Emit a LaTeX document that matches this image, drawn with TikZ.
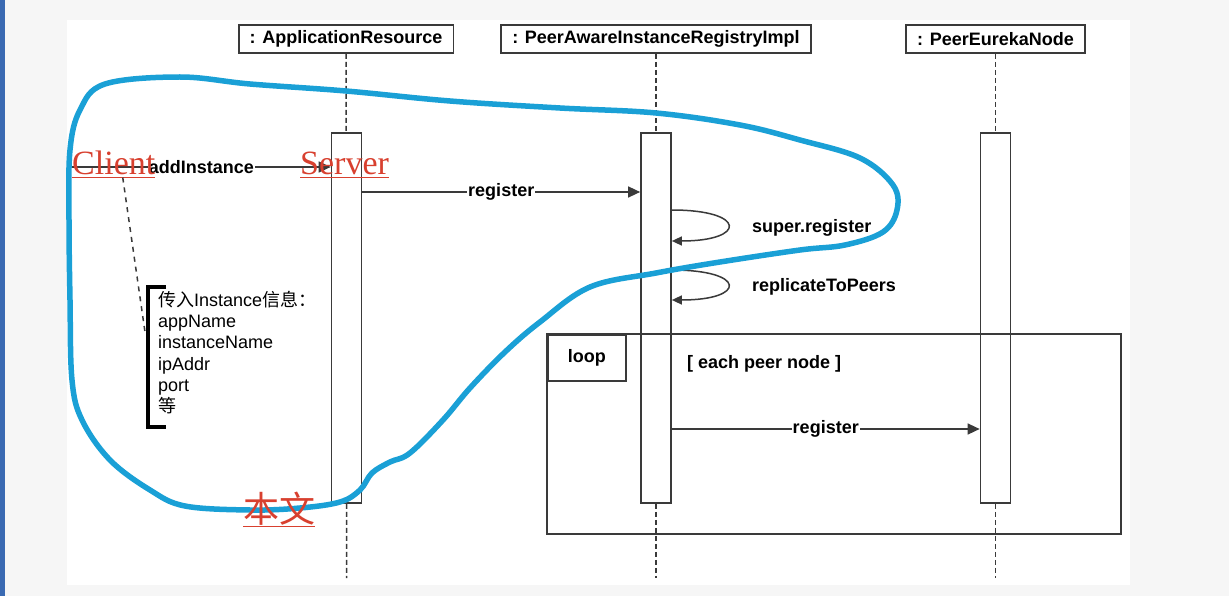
\documentclass[tikz,border=0pt]{standalone}
\usepackage{fontspec}
\setmainfont{Liberation Sans}
\newfontfamily\cjk{Noto Sans CJK SC}
\newfontfamily\serifhand{Liberation Serif}
\usetikzlibrary{arrows.meta}
\definecolor{pagegray}{HTML}{F6F6F6}
\definecolor{edgeblue}{HTML}{3A6AB2}
\definecolor{penblue}{HTML}{1AA0D6}
\definecolor{penred}{HTML}{D8402F}
\definecolor{umlline}{HTML}{3A3A3A}
\tikzset{
  head/.style={draw=umlline, line width=1.7pt, minimum height=28pt, inner xsep=11pt,
    font=\fontsize{18}{20}\selectfont\bfseries},
  activation/.style={draw=umlline, fill=white, line width=1.7pt, minimum width=30pt,
    minimum height=370pt, inner sep=0pt},
  lifeline/.style={draw=umlline, line width=1.5pt, dash pattern=on 5pt off 3pt},
  msg/.style={draw=umlline, line width=1.5pt, -{Triangle[length=12pt,width=11pt]}},
  selfmsg/.style={draw=umlline, line width=1.5pt, -{Triangle[length=10pt,width=9pt]}},
  msglabel/.style={fill=white, inner sep=1pt, font=\fontsize{18}{20}\selectfont\bfseries},
  marker/.style={text=penred, inner sep=0pt, font=\fontsize{34}{36}\serifhand},
  pen/.style={draw=penblue, line width=5.5pt, line cap=round, line join=round}
}
\begin{document}
\begin{tikzpicture}[x=1pt,y=-1pt]
\useasboundingbox (0,0) rectangle (1229,596);
\fill[pagegray] (0,0) rectangle (1229,596);
\fill[edgeblue] (0,0) rectangle (5,596);
\fill[white] (67,20) rectangle (1130,585);

\node[head] (resH) at (346,39) {: ApplicationResource};
\node[head] (regH) at (656,39) {: PeerAwareInstanceRegistryImpl};
\node[head] (peerH) at (995.5,39) {: PeerEurekaNode};

\node[activation] (resA) at (346.5,318) {};
\node[activation] (regA) at (656,318) {};
\node[activation] (peerA) at (995.5,318) {};

\coordinate (resE) at (346.5,578);
\coordinate (regE) at (656,578);
\coordinate (peerE) at (995.5,578);
\draw[lifeline] (resH) -- (resA) (resA) -- (resE);
\draw[lifeline] (regH) -- (regA) (regA) -- (regE);
\draw[lifeline] (peerH) -- (peerA) (peerA) -- (peerE);

\draw[umlline, line width=1.7pt] (547,334) rectangle (1121,534);
\node[draw=umlline, line width=1.7pt, anchor=north west, minimum width=78pt, minimum height=46pt,
  font=\fontsize{18}{20}\selectfont\bfseries] (loopTag) at (547,334) {loop};
\node[anchor=west, inner sep=0pt, font=\fontsize{18}{20}\selectfont\bfseries] (guard) at (687,364) {[ each peer node ]};

\coordinate (caller) at (72,167);
\draw[msg] (caller) -- (caller -| resA.west) node[msglabel, midway] {addInstance};
\draw[msg] (resA.east |- 0,192) -- (regA.west |- 0,192) node[msglabel, midway] {register};
\draw[selfmsg] (regA.east |- 0,210) .. controls +(75,0) and +(75,0) .. (regA.east |- 0,241);
\node[anchor=west, inner sep=0pt, font=\fontsize{18}{20}\selectfont\bfseries] (superLbl) at (752,228) {super.register};
\draw[selfmsg] (regA.east |- 0,270) .. controls +(75,0) and +(75,0) .. (regA.east |- 0,300);
\node[anchor=west, inner sep=0pt, font=\fontsize{18}{20}\selectfont\bfseries] (replLbl) at (752,287) {replicateToPeers};
\draw[msg] (regA.east |- 0,429) -- (peerA.west |- 0,429) node[msglabel, midway] {register};

\node[anchor=north west, align=left, inner sep=0pt, font=\fontsize{18}{21.2}\selectfont] (note) at (158,291)
  {{\cjk 传入}Instance{\cjk 信息：}\\appName\\instanceName\\ipAddr\\port\\{\cjk 等}};
\draw[line width=3.2pt] (166,287) -- (148,287) -- (148,427) -- (166,427);

\draw[pen] plot[smooth cycle, tension=0.6] coordinates {
  (70,150) (80,110) (105,84) (180,77) (250,84) (346,91) (450,101) (560,108) (656,113)
  (740,125) (800,140) (860,158) (893,185) (897,210) (883,232) (845,245) (800,250)
  (720,262) (656,273) (590,287) (540,322) (505,352) (470,388) (443,420) (410,453)
  (390,462) (372,473) (360,490) (340,502) (300,508) (250,510) (185,506) (150,490)
  (110,460) (82,420) (72,380) (70,300) (69,220)};

\node[marker, anchor=base west] (clientTag) at (72,175) {\underline{Client}};
\node[marker, anchor=base west] (serverTag) at (300,175) {\underline{Server}};
\node[marker, anchor=base west, font=\fontsize{36}{38}\cjk] (mainTag) at (243,522) {\underline{本文}};
\coordinate (noteTip) at (145,332);
\draw[umlline, line width=1.5pt, dash pattern=on 5pt off 5pt] ([xshift=9pt]clientTag.south) -- (noteTip);
\end{tikzpicture}
\end{document}
